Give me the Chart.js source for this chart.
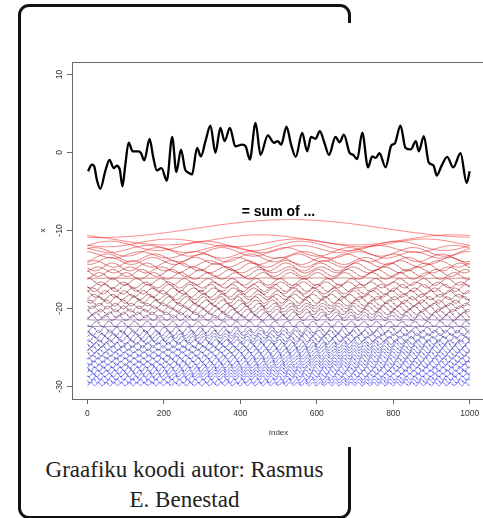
<!DOCTYPE html>
<html>
<head>
<meta charset="utf-8">
<script src="https://cdn.jsdelivr.net/npm/chart.js@4.4.1/dist/chart.umd.min.js"></script>
<style>
  html, body { margin:0; padding:0; width:483px; height:518px; overflow:hidden; background:#fff; }
  #frame { position:absolute; left:18px; top:4px; width:333px; height:515px; box-sizing:border-box;
           border:3px solid #111; border-radius:11px; }
  #plotbg { position:absolute; left:22px; top:23px; width:470px; height:424px; background:#fff; }
  #chart { position:absolute; left:0; top:0; }
  .cap { position:absolute; left:18px; top:455px; width:333px; text-align:center;
         font-family:"Liberation Serif", "Times New Roman", serif; font-size:23px; line-height:29.5px; color:#222; }
</style>
</head>
<body>
<div id="frame"></div>
<div id="plotbg"></div>
<canvas id="chart" width="500" height="450"></canvas>
<div class="cap">Graafiku koodi autor: Rasmus<br>E. Benestad</div>
<script>
/* ── DATA ─────────────────────────────────────────────────── */
const xTicks = [0, 200, 400, 600, 800, 1000];
const yTicks = [-30, -20, -10, 0, 10];

// the black curve (index, value)
const sumIdx = [2,12,18,25,34,47,58,69,77,85,92,99,108,119,134,140,149,163,172,182,
  194,208,222,233,245,256,265,274,287,297,309,322,335,348,359,373,387,405,414,425,
  440,453,472,488,498,507,521,533,545,562,575,585,597,608,620,632,649,660,671,686,
  695,706,719,734,745,754,764,780,795,804,819,832,846,859,867,880,893,905,914,926,
  941,957,976,992,1000];
const sumVal = [-2.4,-1.55,-1.75,-3.5,-4.65,-2.4,-0.95,-2.0,-1.7,-2.2,-4.35,-1.75,1.25,0.15,0.15,-0.05,-1.0,1.75,-0.5,-2.3,
  -2.0,-3.6,2.0,-2.5,0.35,-2.2,-2.6,-2.8,0.6,-0.5,1.45,3.45,-0.05,3.15,1.45,3.15,0.8,1.0,0.8,-0.9,
  3.8,-0.3,2.2,1.25,1.45,1.0,3.3,1.0,-0.55,2.5,0.15,2.0,1.75,2.75,1.25,-0.3,2.0,1.3,2.3,-0.05,
  -0.3,-0.85,2.55,-1.9,-0.5,-0.7,-0.1,-1.9,0.9,1.15,3.45,0.6,0.4,1.45,0.15,2.1,-1.3,-1.65,-2.95,-1.75,
  -0.55,-1.9,-0.1,-3.9,-2.4];

// the stacked components: cycles per 1000, baseline, amplitude, phase (estimated)
const waveCycles = [1,2,3,4,5,6,7,8,9,10,11,12,13,14,15,16,17,18,19,20,21,22,23,24,25,
  26,27,28,29,30,31,32,33,34,35,36,37,38,39,40,41,42,43,44,45,46,47,48,49,50];
const waveOffset = [-9.75,-11.2,-11.59,-11.97,-12.36,-12.74,-13.13,-13.51,-13.9,-14.28,
  -14.67,-15.05,-15.44,-15.82,-16.1,-16.59,-16.98,-17.36,-17.75,-18.13,
  -18.52,-18.9,-19.29,-19.67,-20.06,-20.44,-20.83,-21.21,-21.45,-21.98,
  -22.3,-22.75,-23.14,-23.52,-23.91,-24.29,-24.68,-25.06,-25.45,-25.83,
  -26.22,-26.6,-26.99,-27.37,-27.76,-28.14,-28.53,-28.91,-29.3,-29.68];
const waveAmp = [1.15,0.65,0.5,0.6,0.45,0.55,0.42,0.5,0.45,0.42,
  0.5,0.38,0.45,0.42,0.02,0.42,0.38,0.45,0.38,0.42,
  0.34,0.42,0.38,0.34,0.38,0.34,0.38,0.34,0.02,0.34,
  0.02,0.38,0.34,0.3,0.34,0.3,0.34,0.3,0.26,0.3,
  0.26,0.3,0.26,0.26,0.3,0.26,0.22,0.26,0.26,0.22];
const wavePhase = [2.95,0.6,2.2,4.8,1.3,5.6,0.2,3.7,2.9,5.1,
  1.8,4.2,0.9,3.6,0,5.9,2.5,1.1,4.6,0.4,
  3.9,2.0,5.4,1.5,4.0,0.7,2.7,4.3,0,1.9,
  0,3.5,0.3,4.4,2.3,5.7,1.0,3.0,4.9,0.5,
  2.6,5.3,1.4,3.8,0.8,4.5,2.1,5.8,1.2,3.4];

/* ── COLOURS: red → dark → blue ───────────────────────────── */
const stops = [[0,[255,0,0]],[0.28,[165,0,10]],[0.45,[110,10,30]],[0.56,[85,20,100]],[0.63,[35,25,135]],[1,[25,25,255]]];
function ramp(t) {
  for (let i = 1; i < stops.length; i++) {
    if (t <= stops[i][0]) {
      const [t0, c0] = stops[i-1], [t1, c1] = stops[i];
      const f = (t - t0) / (t1 - t0);
      const c = c0.map((v, j) => Math.round(v + (c1[j] - v) * f));
      return `rgba(${c[0]},${c[1]},${c[2]},0.6)`;
    }
  }
  return 'rgba(25,25,255,0.6)';
}

const datasets = waveCycles.map((k, i) => {
  const pts = [];
  for (let t = 0; t <= 1000; t += 2)
    pts.push({ x: t, y: waveOffset[i] + waveAmp[i] * Math.cos(2 * Math.PI * k * t / 1000 + wavePhase[i]) });
  return { data: pts, borderColor: ramp(i / (waveCycles.length - 1)), borderWidth: 0.8,
           pointRadius: 0, tension: 0, fill: false };
});
datasets.push({
  data: sumIdx.map((x, i) => ({ x, y: sumVal[i] })),
  borderColor: '#000', borderWidth: 2.3, pointRadius: 0,
  cubicInterpolationMode: 'monotone', fill: false,
});

/* ── EXTRA DRAWING: box, rotated y labels, text ───────────── */
const decor = {
  id: 'decor',
  afterDraw(chart) {
    const { ctx, chartArea: a, scales: { x, y } } = chart;
    ctx.save();
    ctx.strokeStyle = '#666';
    ctx.lineWidth = 1;
    ctx.strokeRect(a.left + 0.5, a.top + 0.5, a.right - a.left, a.bottom - a.top);
    ctx.fillStyle = '#333';
    ctx.font = '8.5px "Liberation Sans", Arial, sans-serif';
    ctx.textAlign = 'center';
    ctx.textBaseline = 'middle';
    yTicks.forEach(v => {
      ctx.save();
      ctx.translate(60, y.getPixelForValue(v));
      ctx.rotate(-Math.PI / 2);
      ctx.fillText(String(v), 0, 0);
      ctx.restore();
    });
    ctx.fillStyle = '#000';
    ctx.font = 'bold 14px "Liberation Sans", Arial, sans-serif';
    ctx.fillText('= sum of ...', x.getPixelForValue(500), y.getPixelForValue(-7.6));
    ctx.restore();
  }
};

new Chart(document.getElementById('chart'), {
  type: 'line',
  data: { datasets },
  options: {
    responsive: false,
    animation: false,
    normalized: true,
    layout: { padding: { top: 62, right: 15, left: 0, bottom: 0 } },
    plugins: { legend: { display: false }, tooltip: { enabled: false } },
    scales: {
      x: {
        type: 'linear', min: -40, max: 1040,
        afterBuildTicks: s => { s.ticks = xTicks.map(v => ({ value: v })); },
        afterFit: s => { s.height = 51; },
        grid: { drawOnChartArea: false, drawTicks: true, tickLength: 5, color: '#666' },
        border: { display: false },
        ticks: { font: { family: 'Liberation Sans', size: 8.5 }, color: '#333', padding: 5, maxRotation: 0,
                 autoSkip: false, callback: v => String(v) },
        title: { display: true, text: 'Index', font: { family: 'Liberation Sans', size: 8 }, color: '#333', padding: { top: 0, bottom: 12 } },
      },
      y: {
        type: 'linear', min: -31.6, max: 11.6,
        afterBuildTicks: s => { s.ticks = yTicks.map(v => ({ value: v })); },
        afterFit: s => { s.width = 72; },
        grid: { drawOnChartArea: false, drawTicks: true, tickLength: 5, color: '#666' },
        border: { display: false },
        ticks: { display: false },
        title: { display: true, text: 'x', font: { family: 'Liberation Sans', size: 8 }, color: '#333', padding: { top: 38, bottom: 0 } },
      },
    },
  },
  plugins: [decor],
});
</script>
</body>
</html>
